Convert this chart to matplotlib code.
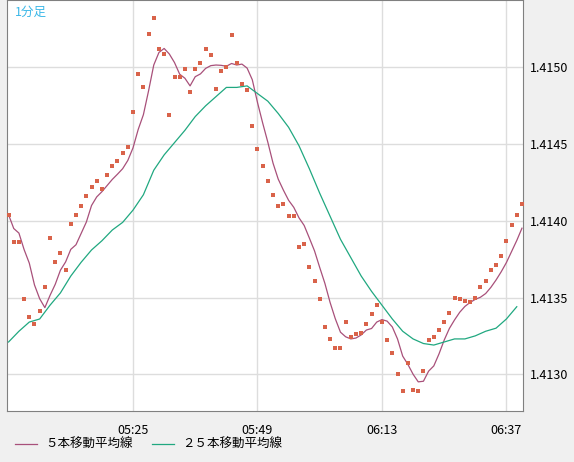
import matplotlib
matplotlib.use("Agg")
import matplotlib.pyplot as plt
import numpy as np
import pandas as pd

plt.rcParams['font.family'] = ['Noto Sans CJK JP', 'DejaVu Sans']

closes = [1.41404,1.41386,1.41386,1.41349,1.41337,1.41333,1.41341,1.41357,1.41389,1.41373,
          1.41379,1.41368,1.41398,1.41404,1.41410,1.41416,1.41422,1.41426,1.41421,1.41430,
          1.41436,1.41439,1.41444,1.41448,1.41471,1.41496,1.41487,1.41522,1.41532,1.41512,
          1.41509,1.41469,1.41494,1.41494,1.41499,1.41484,1.41499,1.41503,1.41512,1.41508,
          1.41486,1.41498,1.41500,1.41521,1.41503,1.41489,1.41485,1.41462,1.41447,1.41436,
          1.41426,1.41417,1.41410,1.41411,1.41403,1.41403,1.41383,1.41385,1.41370,1.41361,
          1.41349,1.41331,1.41323,1.41317,1.41317,1.41334,1.41324,1.41326,1.41327,1.41333,
          1.41339,1.41345,1.41334,1.41322,1.41314,1.41300,1.41289,1.41307,1.41290,1.41289,
          1.41302,1.41322,1.41324,1.41329,1.41334,1.41340,1.41350,1.41349,1.41348,1.41347,
          1.41350,1.41357,1.41361,1.41368,1.41371,1.41377,1.41387,1.41397,1.41404,1.41411]
ma25 = [1.41321,1.41328,1.41334,1.41336,1.41345,1.41353,1.41364,1.41373,1.41381,1.41387,
        1.41394,1.41399,1.41407,1.41417,1.41433,1.41443,1.41451,1.41459,1.41468,1.41475,
        1.41481,1.41487,1.41487,1.41488,1.41483,1.41478,1.41470,1.41461,1.41449,1.41434,
        1.41418,1.41403,1.41388,1.41376,1.41364,1.41354,1.41345,1.41336,1.41328,1.41323,
        1.41320,1.41319,1.41321,1.41323,1.41323,1.41325,1.41328,1.41330,1.41336,1.41344]
tick_pos = [24, 48, 72, 96]
tick_labels = ["05:25", "05:49", "06:13", "06:37"]
y_ticks = [1.4130, 1.4135, 1.4140, 1.4145, 1.4150]

x = np.arange(len(closes))
ma5 = pd.Series(closes).rolling(5, min_periods=1).mean()
x25 = np.arange(0, 2 * len(ma25), 2)

fig = plt.figure(figsize=(5.74, 4.62), dpi=100, facecolor='#f0f0f0')
ax = fig.add_axes([7/574, 51/462, 516/574, 411/462])
ax.set_facecolor('white')
ax.grid(True, color='#dddddd', lw=1)
ax.set_axisbelow(True)
ax.plot(x, ma5, color='#a8507a', lw=0.9, zorder=3)
ax.plot(x25, ma25, color='#20a880', lw=0.9, zorder=3)
ax.scatter(x, closes, marker='s', s=10, color='#d9634a', lw=0, zorder=4)
ax.set_xlim(-0.3, 99.2)
ax.set_ylim(1.41276, 1.41544)
ax.set_xticks(tick_pos)
ax.set_xticklabels(tick_labels)
ax.set_yticks(y_ticks)
ax.set_yticklabels([f"{v:.4f}" for v in y_ticks])
ax.yaxis.tick_right()
ax.tick_params(length=0, labelsize=9, pad=5)
ax.tick_params(axis='x', pad=9)
for s in ax.spines.values():
    s.set_color('#808080')
ax.text(0.015, 0.985, "1分足", transform=ax.transAxes, color='#3cb8e8', fontsize=9, va='top')
fig.lines.append(plt.Line2D([15/574, 37/574], [18/462, 18/462], color='#a8507a', lw=0.9, transform=fig.transFigure))
fig.text(45/574, 18/462, "５本移動平均線", fontsize=9, va='center')
fig.lines.append(plt.Line2D([152/574, 174/574], [18/462, 18/462], color='#20a880', lw=0.9, transform=fig.transFigure))
fig.text(182/574, 18/462, "２５本移動平均線", fontsize=9, va='center')
fig.savefig("out.png", dpi=100, facecolor=fig.get_facecolor())
